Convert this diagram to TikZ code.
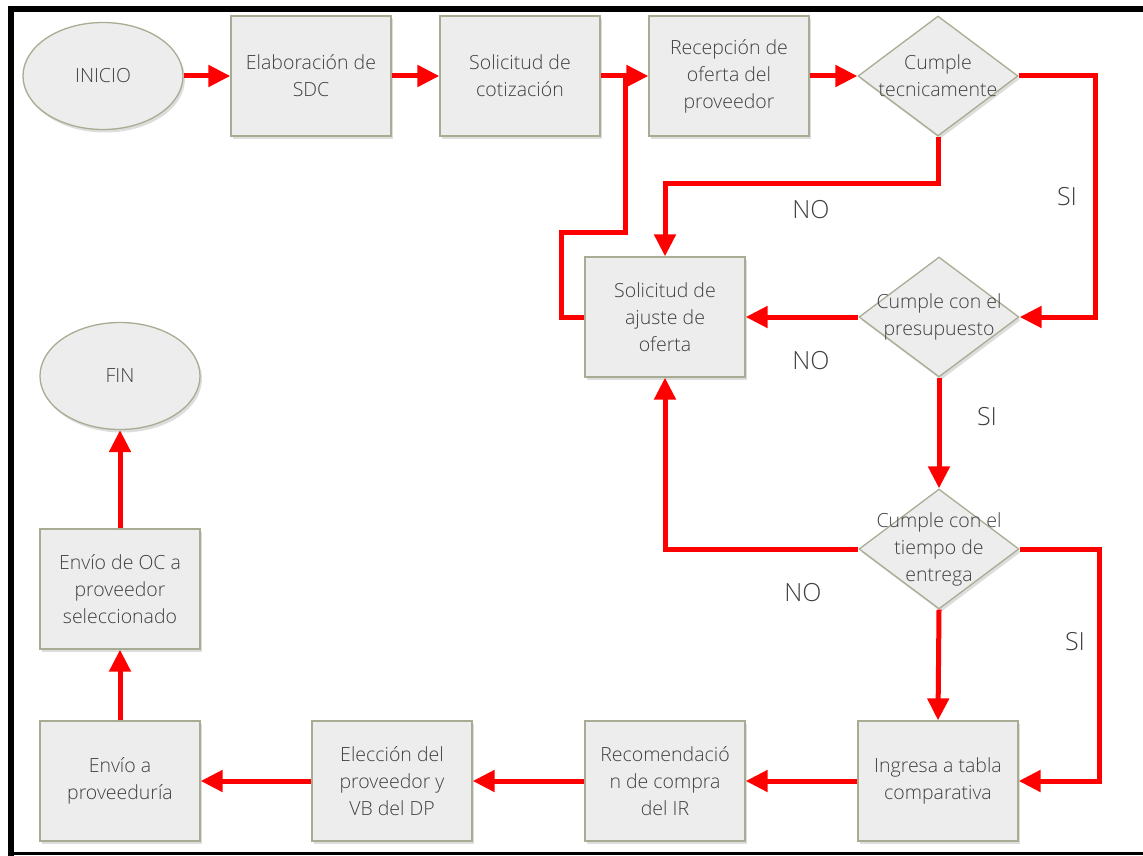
\documentclass[tikz,border=0pt]{standalone}
\usepackage{fontspec}
\IfFontExistsTF{Open Sans Light}{\setmainfont{Open Sans Light}}{\setmainfont{Open Sans}}
\usetikzlibrary{arrows.meta,shapes.geometric,shadows}
\definecolor{boxfill}{HTML}{EDEDED}
\definecolor{boxline}{HTML}{A8AC92}
\definecolor{txt}{HTML}{404040}
\begin{document}
\begin{tikzpicture}[x=1pt,y=-1pt,
  shade/.style={drop shadow={shadow xshift=2pt,shadow yshift=-3pt,opacity=0.22,fill=black!60}},
  proc/.style={rectangle,draw=boxline,line width=1.3pt,fill=boxfill,shade,
    minimum width=160pt,minimum height=120pt,inner sep=2pt,align=center,
    text=txt,font=\fontsize{19.5}{27}\selectfont},
  term/.style={ellipse,draw=boxline,line width=1.3pt,fill=boxfill,shade,
    minimum width=160pt,minimum height=107pt,inner sep=0pt,
    text=txt,font=\fontsize{19.5}{27}\selectfont},
  decision/.style={diamond,draw=boxline,line width=1.3pt,fill=boxfill,shade,
    minimum width=160pt,minimum height=120pt,inner sep=0pt,aspect=1.33},
  dtext/.style={align=center,text=txt,font=\fontsize{19.5}{27}\selectfont},
  lbl/.style={text=txt,font=\fontsize{25}{28}\selectfont},
  flow/.style={draw=red,line width=5pt,-{Triangle[length=22pt,width=21pt]}},
  link/.style={draw=red,line width=5pt}]

% page area and frame
\fill[white] (0,0) rectangle (1143,856);
\useasboundingbox (0,0) rectangle (1143,856);
\fill[black] (8,6) rectangle (1143,12);
\fill[black] (8,6) rectangle (14,856);
\fill[black] (8,852) rectangle (1143,855);

% top row
\node[term] (ini) at (103,76) {INICIO};
\node[proc] (elab) at (311,76) {Elaboración de\\SDC};
\node[proc] (cot) at (520,76) {Solicitud de\\cotización};
\node[proc] (rec) at (729,76) {Recepción de\\oferta del\\proveedor};
\node[decision] (d1) at (938,76) {};
\node[dtext] (d1t) at (938,76) {Cumple\\tecnicamente};

% middle
\node[proc] (aj) at (665,317) {Solicitud de\\ajuste de\\oferta};
\node[decision] (d2) at (939,317) {};
\node[dtext] (d2t) at (939,317) {Cumple con el\\presupuesto};
\node[decision] (d3) at (939,549) {};
\node[dtext] (d3t) at (939,549) {Cumple con el\\tiempo de\\entrega};

% left column
\node[term] (fin) at (120,376) {FIN};
\node[proc] (oc) at (120,589) {Envío de OC a\\proveedor\\seleccionado};

% bottom row
\node[proc] (ing) at (938,781) {Ingresa a tabla\\comparativa};
\node[proc] (recom) at (665,781) {Recomendació\\n de compra\\del IR};
\node[proc] (elec) at (392,781) {Elección del\\proveedor y\\VB del DP};
\node[proc] (envp) at (120,781) {Envío a\\proveeduría};

% connectors
\draw[flow] (ini) -- (elab);
\draw[flow] (elab) -- (cot);
\draw[flow] (cot) -- (rec);
\draw[flow] (rec) -- (d1);
\coordinate (merge) at (625,76);
\draw[link] (aj.west) -- ++(-23,0) |- (625,232) -- (merge);
\draw[flow] (d1.south) -- (938,183) -| (aj.north);
\draw[flow] (d1.east) -- (1095,76) |- (d2.east);
\draw[flow] (d2.west) -- (aj.east);
\draw[flow] (d2.south) -- (d3.north);
\draw[flow] (d3.west) -| (aj.south);
\draw[flow] (d3.east) -- (1099,549) |- (ing.east);
\draw[flow] (d3.south) -- (ing.north);
\draw[flow] (ing) -- (recom);
\draw[flow] (recom) -- (elec);
\draw[flow] (elec) -- (envp);
\draw[flow] (envp) -- (oc);
\draw[flow] (oc) -- (fin);

% branch labels
\node[lbl] (no1) at (811,210) {NO};
\node[lbl] (si1) at (1067,197) {SI};
\node[lbl] (no2) at (811,361) {NO};
\node[lbl] (si2) at (987,417) {SI};
\node[lbl] (no3) at (803,593) {NO};
\node[lbl] (si3) at (1075,642) {SI};
\end{tikzpicture}
\end{document}
